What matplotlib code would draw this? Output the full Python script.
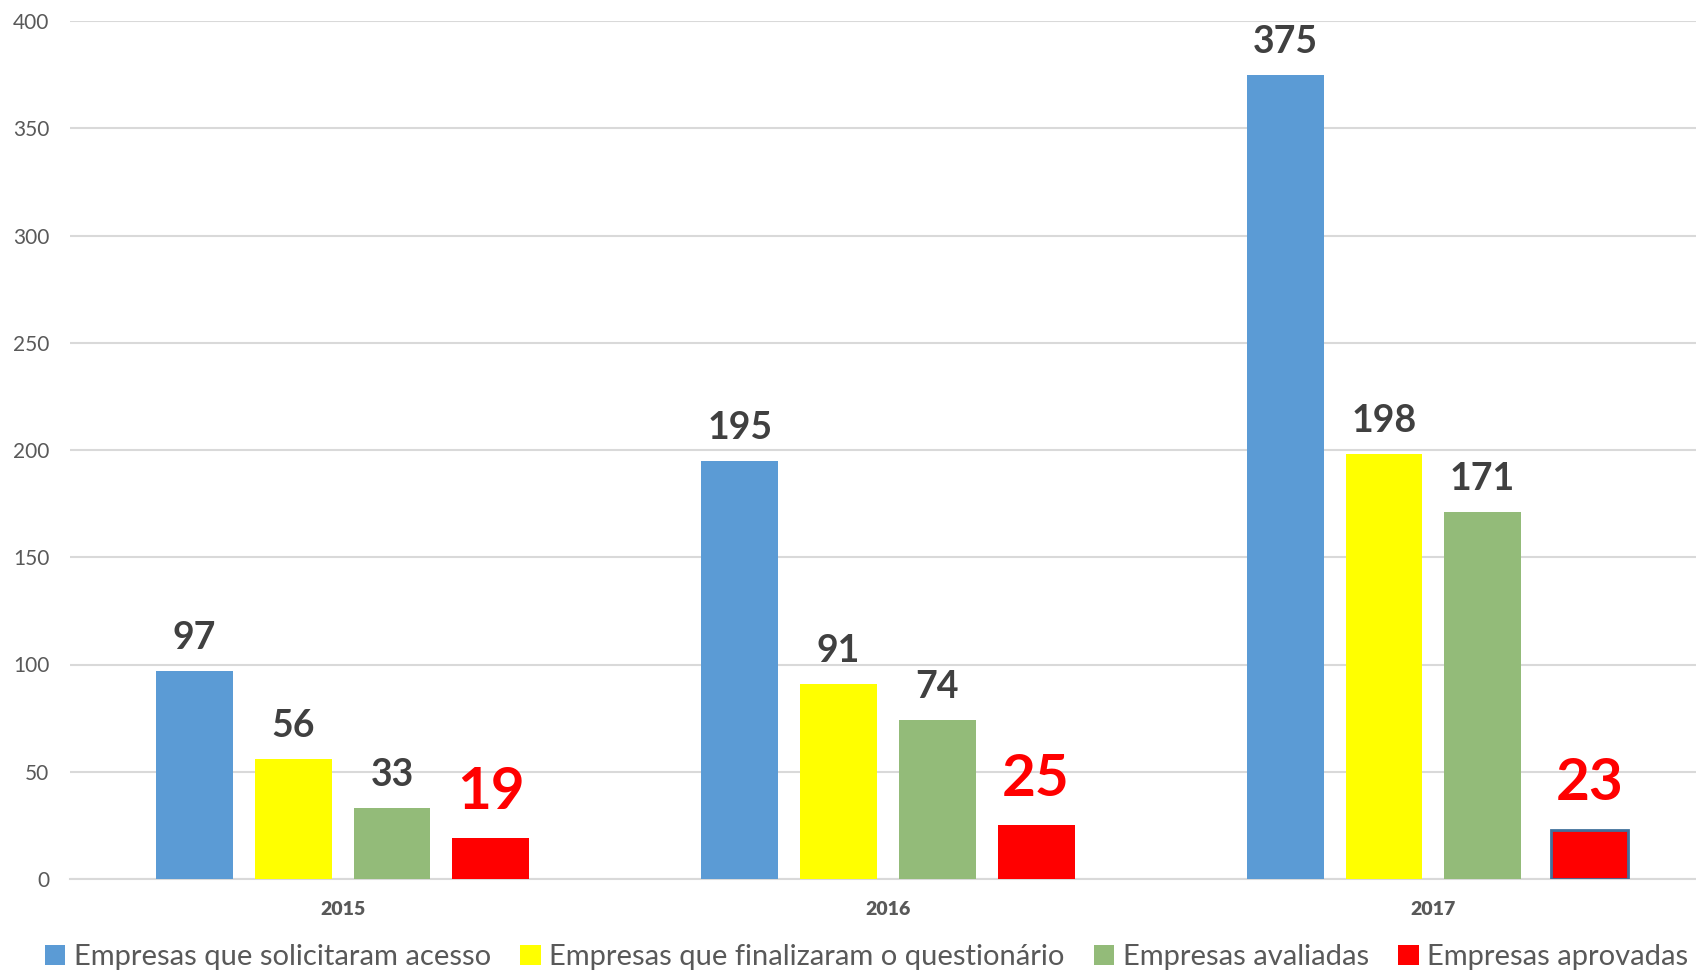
import numpy as np
import matplotlib.pyplot as plt
from matplotlib.patches import Patch

plt.rcParams['font.family'] = ['Lato', 'DejaVu Sans']

years = ['2015', '2016', '2017']
solicitaram = [97, 195, 375]
finalizaram = [56, 91, 198]
avaliadas = [33, 74, 171]
aprovadas = [19, 25, 23]

series_names = ['Empresas que solicitaram acesso',
                'Empresas que finalizaram o questionário',
                'Empresas avaliadas',
                'Empresas aprovadas']
series = [solicitaram, finalizaram, avaliadas, aprovadas]
colors = ['#5B9BD5', '#FFFF00', '#93BB79', '#FF0000']

fig = plt.figure(figsize=(16.96, 9.76), dpi=100)
# axes run slightly past the right edge of the canvas
ax = fig.add_axes([70 / 1696, (976 - 879) / 976, 1636 / 1696, 858 / 976])

x = np.arange(len(years))
step = 0.181
width = 0.141
for i, (vals, col) in enumerate(zip(series, colors)):
    pos = x + (i - 1.5) * step
    if i == 3:
        pos[2] += 0.015  # last approved bar sits a touch further right
    bars = ax.bar(pos, vals, width, color=col, zorder=3)
    for j, (b, v) in enumerate(zip(bars, vals)):
        if i == 3:
            if j == 2:
                b.set_edgecolor('#41719C')
                b.set_linewidth(2)
            ax.text(b.get_x() + width / 2, v + 9, str(v), ha='center', va='bottom',
                    fontsize=42, fontweight='bold', color='#FF0000')
        else:
            ax.text(b.get_x() + width / 2, v + 7.5, str(v), ha='center', va='bottom',
                    fontsize=27, fontweight='bold', color='#404040')

ax.set_xlim(-0.5, 2.5)
ax.set_ylim(0, 400)
ax.set_yticks(range(0, 401, 50))
ax.set_xticks(x)
ax.set_xticklabels(years, fontsize=14, fontweight='heavy', color='#595959')
ax.tick_params(axis='y', labelsize=15, labelcolor='#595959', length=0, pad=15)
ax.tick_params(axis='x', length=0, pad=16)
ax.grid(axis='y', color='#D9D9D9', linewidth=1.5, zorder=0)
for s in ['top', 'right', 'left']:
    ax.spines[s].set_visible(False)
ax.spines['bottom'].set_color('#D9D9D9')
ax.spines['bottom'].set_linewidth(1.5)

handles = [Patch(facecolor=c, label=n) for c, n in zip(colors, series_names)]
fig.legend(handles=handles, loc='center', bbox_to_anchor=(0.511, 0.019), ncol=4,
           frameon=False, fontsize=21, labelcolor='#595959', handlelength=0.7,
           handleheight=0.7, handletextpad=0.3, columnspacing=1.0)

fig.savefig('out.png', dpi=100)
